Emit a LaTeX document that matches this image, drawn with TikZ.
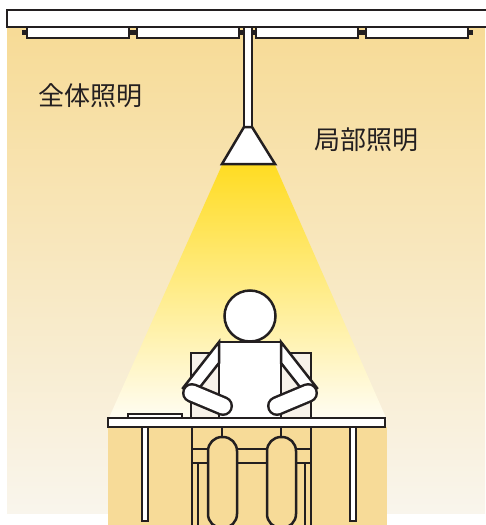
\documentclass[tikz,border=0pt]{standalone}
\usepackage{fontspec}
\newfontfamily\cjk{Noto Sans CJK JP}
\usepackage{tikz}

\definecolor{ink}{RGB}{35,31,32}
\definecolor{wallTop}{RGB}{247,219,150}
\definecolor{wallBot}{RGB}{249,245,236}
\definecolor{deskShade}{RGB}{247,219,152}
\definecolor{beamTop}{RGB}{255,220,35}
\definecolor{beamMid}{RGB}{255,240,160}
\definecolor{beamBot}{RGB}{255,253,244}
\definecolor{chairBack}{RGB}{247,242,234}

\begin{document}
\begin{tikzpicture}[x=1pt,y=-1pt]
\tikzstyle{part}=[draw=ink,line width=2.5pt,fill=white];
\tikzstyle{lbl}=[font=\cjk\fontsize{26}{26}\selectfont,text=ink,inner sep=0pt];
\tikzstyle{limb}=[ink,line width=20pt,line cap=round];
\tikzstyle{limbfill}=[white,line width=15pt,line cap=round];

\useasboundingbox (0,0) rectangle (485,525);

% wall and light beam
\shade[top color=wallTop,bottom color=wallBot] (7,27) rectangle (485,513);
\shade[top color=beamTop,middle color=beamMid,bottom color=beamBot]
  (222,165) -- (275,165) -- (387,420) -- (108,420) -- cycle;
\fill[deskShade] (108,427) rectangle (387,525);

% ceiling, fixtures, pendant
\draw[part] (244,27) rectangle (252,127);
\draw[part] (7,10) rectangle (495,27);
\foreach \x in {27,137,256,366}{
  \fill[ink] (\x-5,30) rectangle ++(5,5);
  \fill[ink] (\x+102,30) rectangle ++(5,5);
  \draw[part] (\x,27) rectangle ++(102,11);
}
\draw[part] (244,127) -- (252,127) -- (275,164) -- (222,164) -- cycle;

% chair back and person
\draw[part,fill=chairBack] (191,353) rectangle (311,418);
\draw[part] (219,342) rectangle (281,418);
\draw[part] (250,316) circle (25.5);
\draw[part] (219,342) -- (183,388) -- (193,396) -- (219,363) -- cycle;
\draw[part] (281,342) -- (317,388) -- (307,396) -- (281,363) -- cycle;
\draw[limb] (192,393) -- (223,406);
\draw[limbfill] (192,393) -- (223,406);
\draw[limb] (308,393) -- (277,406);
\draw[limbfill] (308,393) -- (277,406);

% desk
\draw[part] (128,414) rectangle (182,418);
\draw[part] (108,418) rectangle (385,427);
\draw[part] (142,427) rectangle (148,521);
\draw[part] (350,427) rectangle (356,521);

% chair seat, legs and knees under the desk
\draw[ink,line width=2.5pt] (192,427) -- (192,449);
\draw[ink,line width=2.5pt] (311,427) -- (311,449);
\draw[part,fill=deskShade] (192,449) rectangle (311,463);
\draw[part,fill=deskShade] (192,463) rectangle (198,530);
\draw[part,fill=deskShade] (305,463) rectangle (311,530);
\draw[ink,line width=2.5pt] (222,427) -- (222,437);
\draw[ink,line width=2.5pt] (281,427) -- (281,437);
\draw[part,fill=deskShade,rounded corners=14pt] (208,437) rectangle (237,528);
\draw[part,fill=deskShade,rounded corners=14pt] (267,437) rectangle (296,528);

% labels
\node[lbl] (general) at (90,96) {全体照明};
\node[lbl] (task) at (366,140) {局部照明};
\end{tikzpicture}
\end{document}
